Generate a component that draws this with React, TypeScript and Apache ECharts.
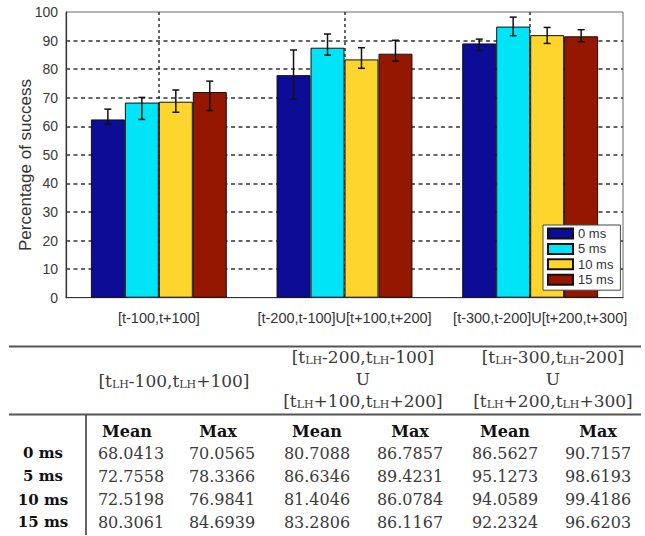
import React, { useEffect, useRef } from "react";
import * as echarts from "echarts";

// ---------- chart data ----------
const CATEGORIES = [
  "[t-100,t+100]",
  "[t-200,t-100]U[t+100,t+200]",
  "[t-300,t-200]U[t+200,t+300]",
];
const SERIES_NAMES = ["0 ms", "5 ms", "10 ms", "15 ms"];
const MEAN_0MS = [62.4, 77.9, 89.0];
const MEAN_5MS = [68.3, 87.5, 94.9];
const MEAN_10MS = [68.6, 83.4, 91.9];
const MEAN_15MS = [72.0, 85.4, 91.5];
const ERR_LOW_0MS = [60.8, 69.5, 86.5];
const ERR_HIGH_0MS = [66.0, 86.7, 90.5];
const ERR_LOW_5MS = [62.4, 84.9, 91.7];
const ERR_HIGH_5MS = [70.1, 92.3, 98.2];
const ERR_LOW_10MS = [64.9, 80.3, 89.0];
const ERR_HIGH_10MS = [72.7, 87.5, 94.6];
const ERR_LOW_15MS = [65.5, 82.8, 89.6];
const ERR_HIGH_15MS = [75.8, 90.1, 93.8];
const Y_MIN = 0;
const Y_MAX = 100;
const Y_STEP = 10;
const Y_TITLE = "Percentage of success";

// ---------- table data ----------
const TABLE_GROUP_1 = ["[t{s|LH}-100,t{s|LH}+100]"];
const TABLE_GROUP_2 = ["[t{s|LH}-200,t{s|LH}-100]", "U", "[t{s|LH}+100,t{s|LH}+200]"];
const TABLE_GROUP_3 = ["[t{s|LH}-300,t{s|LH}-200]", "U", "[t{s|LH}+200,t{s|LH}+300]"];
const TABLE_COL_HEADERS = ["Mean", "Max", "Mean", "Max", "Mean", "Max"];
const TABLE_ROW_LABELS = ["0 ms", "5 ms", "10 ms", "15 ms"];
const TABLE_ROW_0MS = ["68.0413", "70.0565", "80.7088", "86.7857", "86.5627", "90.7157"];
const TABLE_ROW_5MS = ["72.7558", "78.3366", "86.6346", "89.4231", "95.1273", "98.6193"];
const TABLE_ROW_10MS = ["72.5198", "76.9841", "81.4046", "86.0784", "94.0589", "99.4186"];
const TABLE_ROW_15MS = ["80.3061", "84.6939", "83.2806", "86.1167", "92.2324", "96.6203"];

const COLORS = ["#0c0c96", "#00e4f8", "#fdd52c", "#951700"];
const BAR_RATIO = 0.183;

export default function App() {
  const ref = useRef<HTMLDivElement>(null);

  useEffect(() => {
    if (!ref.current) return;
    const chart = echarts.init(ref.current, undefined, { renderer: "svg" });

    const means = [MEAN_0MS, MEAN_5MS, MEAN_10MS, MEAN_15MS];
    const lows = [ERR_LOW_0MS, ERR_LOW_5MS, ERR_LOW_10MS, ERR_LOW_15MS];
    const highs = [ERR_HIGH_0MS, ERR_HIGH_5MS, ERR_HIGH_10MS, ERR_HIGH_15MS];
    const nSeries = SERIES_NAMES.length;

    const errData: number[][] = [];
    for (let s = 0; s < nSeries; s++) {
      for (let c = 0; c < CATEGORIES.length; c++) {
        errData.push([c, s, lows[s][c], highs[s][c]]);
      }
    }

    const barSeries = SERIES_NAMES.map((name, s) => ({
      name,
      type: "bar",
      data: means[s],
      barWidth: `${BAR_RATIO * 100}%`,
      barGap: "0%",
      itemStyle: { color: COLORS[s], borderColor: "#111", borderWidth: 1 },
      z: 2,
    }));

    const errStyle = { stroke: "#111", lineWidth: 1.5 };
    const errSeries = {
      type: "custom",
      z: 10,
      silent: true,
      data: errData,
      encode: { x: 0, y: [2, 3] },
      renderItem: (params: any, api: any) => {
        const cat = api.value(0);
        const s = api.value(1);
        const lo = api.value(2);
        const hi = api.value(3);
        const bandW = api.size([1, 0])[0];
        const bw = bandW * BAR_RATIO;
        const cx = api.coord([cat, 0])[0] + (s - (nSeries - 1) / 2) * bw;
        const yLo = api.coord([cat, lo])[1];
        const yHi = api.coord([cat, hi])[1];
        const cap = 3.5;
        return {
          type: "group",
          children: [
            { type: "line", shape: { x1: cx, y1: yLo, x2: cx, y2: yHi }, style: errStyle },
            { type: "line", shape: { x1: cx - cap, y1: yHi, x2: cx + cap, y2: yHi }, style: errStyle },
            { type: "line", shape: { x1: cx - cap, y1: yLo, x2: cx + cap, y2: yLo }, style: errStyle },
          ],
        };
      },
    };

    // ----- table graphics -----
    const numFont = { fontFamily: "DejaVu Serif", fontSize: 16, fill: "#3a3a3a" };
    const boldFont = { fontFamily: "DejaVu Serif", fontSize: 15, fontWeight: "bold", fill: "#111" };
    const headFont = { fontFamily: "DejaVu Serif", fontSize: 17, fill: "#3a3a3a" };
    const rich = { s: { fontFamily: "DejaVu Serif", fontSize: 11, fill: "#3a3a3a", verticalAlign: "bottom" } };
    const colX = [131, 222, 317, 410, 505, 598];
    const rowY = [453, 476, 499.5, 522];
    const rowLabelX = 43;
    const headerColY = 431;
    const graphics: any[] = [];
    const lineStyle = { stroke: "#555", lineWidth: 2 };
    graphics.push({ type: "line", shape: { x1: 9, y1: 346.5, x2: 641, y2: 346.5 }, style: lineStyle });
    graphics.push({ type: "line", shape: { x1: 9, y1: 414.5, x2: 641, y2: 414.5 }, style: lineStyle });
    graphics.push({ type: "line", shape: { x1: 86, y1: 415, x2: 86, y2: 535 }, style: { stroke: "#333", lineWidth: 1.5 } });

    const groups = [TABLE_GROUP_1, TABLE_GROUP_2, TABLE_GROUP_3];
    const groupX = [174, 363, 553];
    groups.forEach((lines, g) => {
      const lineYs = lines.length === 1 ? [381] : [357, 379, 401];
      lines.forEach((t, k) => {
        graphics.push({
          type: "text",
          style: { text: t, x: groupX[g], y: lineYs[k], align: "center", verticalAlign: "middle", rich, ...headFont },
        });
      });
    });
    TABLE_COL_HEADERS.forEach((h, i) => {
      graphics.push({
        type: "text",
        style: { text: h, x: colX[i] - (i < 2 ? 4 : 0), y: headerColY, align: "center", verticalAlign: "middle", ...boldFont, fontSize: 16 },
      });
    });
    const rows = [TABLE_ROW_0MS, TABLE_ROW_5MS, TABLE_ROW_10MS, TABLE_ROW_15MS];
    TABLE_ROW_LABELS.forEach((lab, r) => {
      graphics.push({
        type: "text",
        style: { text: lab, x: rowLabelX, y: rowY[r], align: "center", verticalAlign: "middle", ...boldFont },
      });
      rows[r].forEach((v, c) => {
        graphics.push({
          type: "text",
          style: { text: v, x: colX[c], y: rowY[r], align: "center", verticalAlign: "middle", ...numFont },
        });
      });
    });
    graphics.push({
      type: "text",
      rotation: Math.PI / 2,
      x: 25,
      y: 165,
      style: {
        text: Y_TITLE,
        x: 0,
        y: 0,
        align: "center",
        verticalAlign: "middle",
        fontFamily: "Liberation Sans",
        fontSize: 17,
        fill: "#333",
      },
    });

    const option: any = {
      animation: false,
      backgroundColor: "#fff",
      grid: {
        left: 66,
        top: 12,
        width: 557,
        height: 285.7,
        show: true,
        borderColor: "#666",
        borderWidth: 1,
        backgroundColor: "transparent",
      },
      legend: {
        orient: "vertical",
        left: 543,
        top: 225,
        itemWidth: 25,
        itemHeight: 10,
        itemGap: 2.4,
        padding: [2, 7, 4, 4],
        backgroundColor: "#fff",
        borderColor: "#444",
        borderWidth: 1,
        icon: "rect",
        data: SERIES_NAMES,
        textStyle: { fontFamily: "Liberation Sans", fontSize: 13, color: "#333" },
      },
      xAxis: {
        type: "category",
        data: CATEGORIES.map((c, i) => ({
          value: c,
          textStyle: i === 2 ? { padding: [0, 0, 0, 20] } : {},
        })),
        position: "bottom",
        axisLine: { show: true, lineStyle: { color: "#333", width: 1.2 } },
        axisTick: { show: false },
        axisLabel: { interval: 0, fontFamily: "Liberation Sans", fontSize: 14.5, color: "#333", margin: 13 },
        splitLine: {
          show: true,
          interval: 0,
          alignWithLabel: true,
          lineStyle: { color: "#333", width: 1.5, type: [3, 3] },
        },
      },
      yAxis: {
        type: "value",
        min: Y_MIN,
        max: Y_MAX,
        interval: Y_STEP,
        axisLine: { show: true, onZero: false, lineStyle: { color: "#333", width: 1.2 } },
        axisTick: { show: false },
        axisLabel: { fontFamily: "Liberation Sans", fontSize: 14, color: "#3a3a3a", margin: 8 },
        splitLine: {
          show: true,
          showMinLine: false,
          showMaxLine: false,
          lineStyle: { color: "#333", width: 1.5, type: [4, 3.5] },
        },
      },
      graphic: graphics,
      series: [...barSeries, errSeries],
    };

    chart.setOption(option);
    return () => chart.dispose();
  }, []);

  return (
    <div
      ref={ref}
      style={{ position: "absolute", left: 0, top: 0, width: 645, height: 536 }}
    />
  );
}
